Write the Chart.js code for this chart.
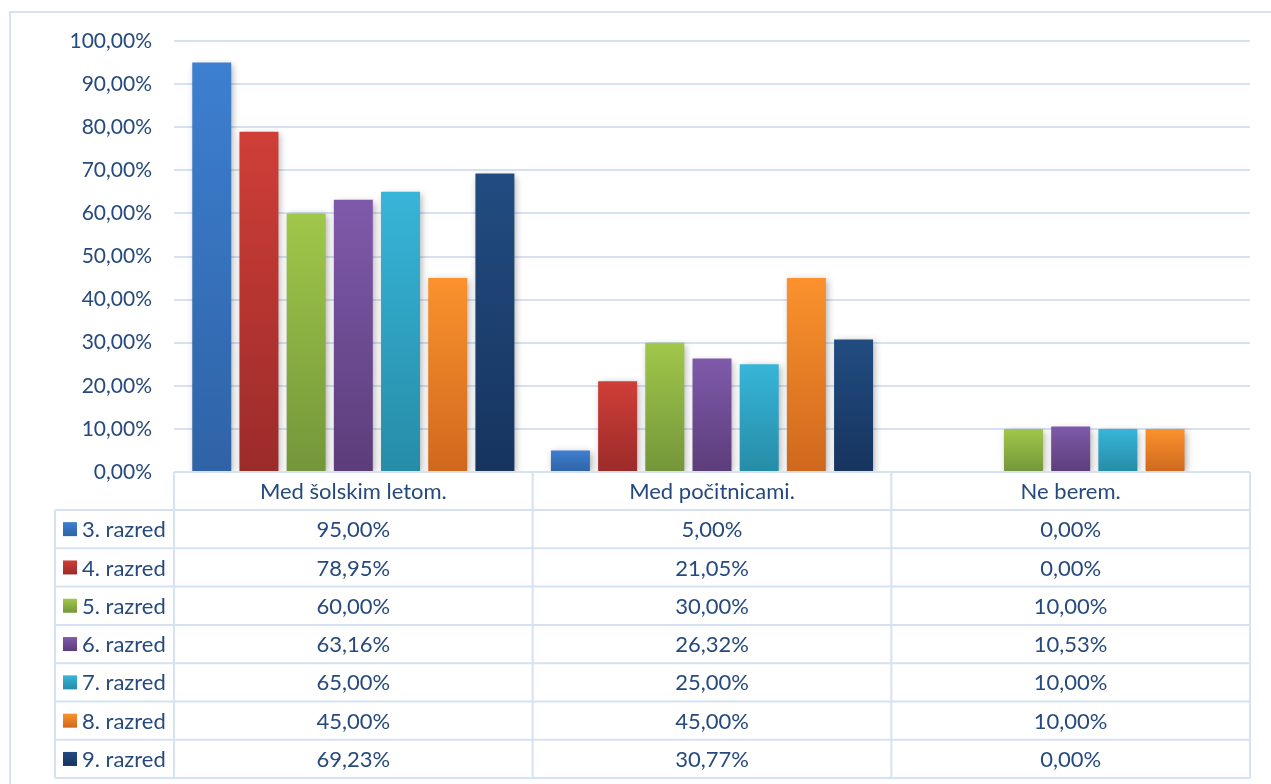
<!DOCTYPE html>
<html>
<head>
<meta charset="utf-8">
<script src="https://cdn.jsdelivr.net/npm/chart.js@4/dist/chart.umd.min.js"></script>
<style>
html,body{margin:0;padding:0;background:#fff;}
#wrap{width:1271px;height:784px;position:relative;}
</style>
</head>
<body>
<div id="wrap"><canvas id="c" width="1271" height="784"></canvas></div>
<script>
const categories = ['Med šolskim letom.', 'Med počitnicami.', 'Ne berem.'];
const seriesNames = ['3. razred', '4. razred', '5. razred', '6. razred', '7. razred', '8. razred', '9. razred'];
const razred3 = [95.00, 5.00, 0.00];
const razred4 = [78.95, 21.05, 0.00];
const razred5 = [60.00, 30.00, 10.00];
const razred6 = [63.16, 26.32, 10.53];
const razred7 = [65.00, 25.00, 10.00];
const razred8 = [45.00, 45.00, 10.00];
const razred9 = [69.23, 30.77, 0.00];
const seriesValues = [razred3, razred4, razred5, razred6, razred7, razred8, razred9];
const colorsTop = ['#3d7fd0', '#d03e38', '#a0c74a', '#7f5aab', '#37b5d9', '#fb922e', '#224c81'];
const colorsBottom = ['#2f63a6', '#9b2b29', '#74963a', '#5c3d7a', '#268ca6', '#cf681d', '#16345e'];

const TEXT = '#264a7d';
const LINE = '#d6e2f2';
const FONT = 'Lato, "Open Sans", sans-serif';
const FS = 21;
const TFS = 22;

function fmt(v){ return v.toFixed(2).replace('.', ',') + '%'; }

function barGradient(i){
  return function(ctx){
    const chart = ctx.chart;
    const ys = chart.scales && chart.scales.y;
    if (!chart.chartArea || !ys || ctx.type !== 'data') return colorsTop[i];
    const v = ctx.raw;
    const top = ys.getPixelForValue(v);
    const bot = ys.getPixelForValue(0);
    if (!(bot - top > 0)) return colorsTop[i];
    const g = chart.ctx.createLinearGradient(0, top, 0, bot);
    g.addColorStop(0, colorsTop[i]);
    g.addColorStop(1, colorsBottom[i]);
    return g;
  };
}

const datasets = seriesNames.map((name, i) => ({
  label: name,
  data: seriesValues[i],
  backgroundColor: barGradient(i),
  borderWidth: 0,
  categoryPercentage: 0.921,
  barPercentage: 0.826
}));

const frame = {
  id: 'frame',
  beforeDraw(chart){
    const c = chart.ctx;
    c.save();
    c.strokeStyle = LINE;
    c.lineWidth = 2;
    c.beginPath();
    c.moveTo(10, 784); c.lineTo(10, 12); c.lineTo(1271, 12);
    c.stroke();
    c.restore();
  }
};

const shadow = {
  id: 'shadow',
  beforeDatasetsDraw(chart){
    const c = chart.ctx;
    c.save();
    c.shadowColor = 'rgba(0,0,0,0.32)';
    c.shadowBlur = 7;
    c.shadowOffsetX = 2;
    c.shadowOffsetY = 2;
  },
  afterDatasetsDraw(chart){
    chart.ctx.restore();
  }
};

const dataTable = {
  id: 'dataTable',
  afterDraw(chart){
    const c = chart.ctx;
    const area = chart.chartArea;
    const xs = chart.scales.x;
    const n = categories.length;
    const cw = (area.right - area.left) / n;
    const top = area.bottom;
    const headerH = 38;
    const rowH = 38.3;
    const legendLeft = 55;
    const rows = seriesNames.length;
    const bottom = top + headerH + rows * rowH;
    c.save();
    c.strokeStyle = LINE;
    c.lineWidth = 2;
    c.beginPath();
    c.moveTo(area.left, top); c.lineTo(area.right, top);
    for (let r = 0; r <= rows; r++) {
      const y = top + headerH + r * rowH;
      c.moveTo(legendLeft, y); c.lineTo(area.right, y);
    }
    for (let k = 0; k <= n; k++) {
      const x = area.left + k * cw;
      c.moveTo(x, top); c.lineTo(x, bottom);
    }
    c.moveTo(legendLeft, top + headerH); c.lineTo(legendLeft, bottom);
    c.stroke();

    c.fillStyle = TEXT;
    c.font = TFS + 'px ' + FONT;
    c.textAlign = 'center';
    c.textBaseline = 'middle';
    categories.forEach((cat, k) => {
      const cx = xs.getPixelForValue(k);
      c.fillText(cat, cx, top + headerH / 2 + 1);
    });
    for (let r = 0; r < rows; r++) {
      const cy = top + headerH + r * rowH + rowH / 2 + 1;
      seriesValues[r].forEach((v, k) => {
        const cx = xs.getPixelForValue(k);
        c.fillText(fmt(v), cx, cy);
      });
      const sx = 63, sy = cy - 8, ss = 14;
      const g = c.createLinearGradient(0, sy, 0, sy + ss);
      g.addColorStop(0, colorsTop[r]);
      g.addColorStop(1, colorsBottom[r]);
      c.fillStyle = g;
      c.fillRect(sx, sy, ss, ss);
      c.fillStyle = TEXT;
      c.textAlign = 'left';
      c.fillText(seriesNames[r], 82, cy);
      c.textAlign = 'center';
    }
    c.restore();
  }
};

new Chart(document.getElementById('c'), {
  type: 'bar',
  data: { labels: categories, datasets: datasets },
  options: {
    responsive: false,
    animation: false,
    layout: { padding: { left: 0, top: 41, right: 21, bottom: 312 } },
    plugins: { legend: { display: false }, tooltip: { enabled: false } },
    scales: {
      x: { display: false },
      y: {
        min: 0, max: 100,
        afterFit(scale){ scale.width = 174; },
        border: { display: false },
        grid: { color: LINE, lineWidth: 2, drawTicks: false },
        ticks: {
          stepSize: 10,
          padding: 22,
          color: TEXT,
          font: { family: FONT, size: FS },
          callback: (v) => fmt(v)
        }
      }
    }
  },
  plugins: [frame, shadow, dataTable]
});
</script>
</body>
</html>
